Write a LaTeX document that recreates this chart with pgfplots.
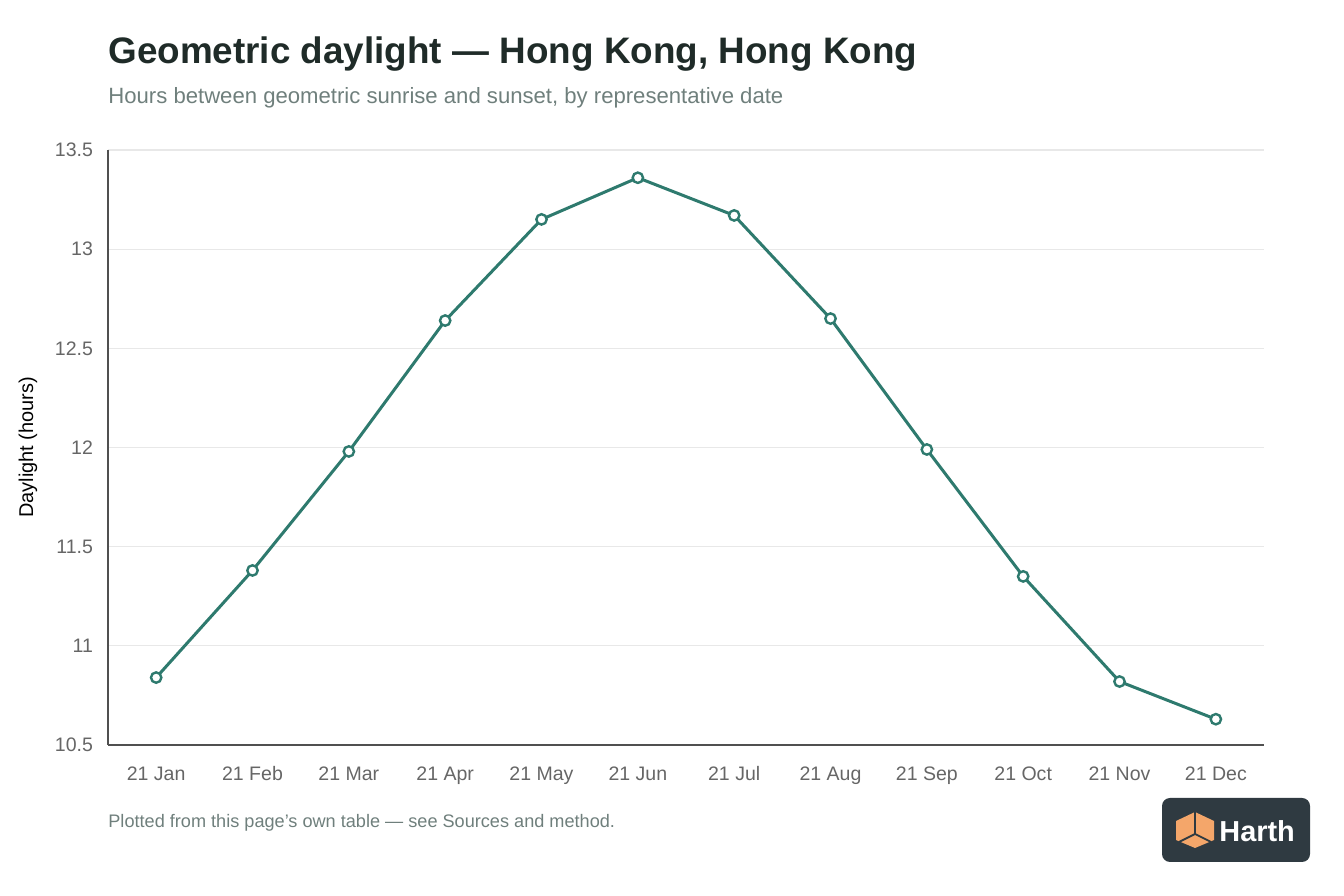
\documentclass[border=0pt]{standalone}
\usepackage{fontspec}
\setmainfont{Liberation Sans}
\usepackage{pgfplots}
\pgfplotsset{compat=1.18}
\definecolor{linec}{HTML}{2E7A6E}
\definecolor{titlec}{HTML}{1F2B28}
\definecolor{subc}{HTML}{6F7F7C}
\definecolor{tickc}{HTML}{666666}
\definecolor{gridc}{HTML}{E8E8E8}
\definecolor{axisc}{HTML}{505050}
\definecolor{logobg}{HTML}{2F3A41}
\definecolor{logoor}{HTML}{F4A66A}
\begin{document}
\begin{tikzpicture}[x=1bp,y=1bp]
\path (0,0) rectangle (672,448);
\node[anchor=base west,inner sep=0,text=titlec,font=\fontsize{18.5}{22}\selectfont\bfseries] at (54,416) {Geometric daylight — Hong Kong, Hong Kong};
\node[anchor=base west,inner sep=0,text=subc,font=\fontsize{11.1}{13}\selectfont] at (54,396) {Hours between geometric sunrise and sunset, by representative date};
\node[anchor=base west,inner sep=0,text=subc,font=\fontsize{9.1}{11}\selectfont] at (54,34) {Plotted from this page's own table — see Sources and method.};
\begin{axis}[
  at={(54bp,75.5bp)}, anchor=south west,
  scale only axis, width=578bp, height=297.5bp,
  xmin=-0.5, xmax=11.5, ymin=10.5, ymax=13.5,
  axis x line*=bottom, axis y line*=left,
  axis line style={axisc, line width=1.1bp},
  xtick={0,...,11},
  xticklabels={21 Jan,21 Feb,21 Mar,21 Apr,21 May,21 Jun,21 Jul,21 Aug,21 Sep,21 Oct,21 Nov,21 Dec},
  ytick={10.5,11,11.5,12,12.5,13,13.5},
  yticklabels={10.5,11,11.5,12,12.5,13,13.5},
  major tick length=0pt,
  ymajorgrids, grid style={gridc, line width=0.6bp},
  tick label style={text=tickc, font=\fontsize{9.8}{11}\selectfont},
  xticklabel style={yshift=-7bp, text height=7bp, text depth=2bp},
  yticklabel style={xshift=-4bp},
  ylabel={Daylight (hours)},
  ylabel style={font=\fontsize{9.7}{11}\selectfont, text=black!85},
  every axis y label/.style={at={(0,0.5)}, xshift=-40bp, rotate=90, anchor=center},
  clip=false,
]
\addplot[linec, line width=1.5bp, mark=*, mark size=2.6bp,
  mark options={fill=white, draw=linec, line width=1.2bp}]
  coordinates {(0,10.84) (1,11.38) (2,11.98) (3,12.64) (4,13.15) (5,13.36)
               (6,13.17) (7,12.65) (8,11.99) (9,11.35) (10,10.82) (11,10.63)};
\end{axis}
% logo
\fill[logobg, rounded corners=4bp] (581,17) rectangle (655,49);
\fill[logoor] (597.5,42) -- (607,37.5) -- (607,28) -- (597.5,24) -- (588,28) -- (588,37.5) -- cycle;
\draw[logobg, line width=0.9bp] (597.5,42) -- (597.5,31) -- (589.5,27) (597.5,31) -- (605.5,27);
\node[anchor=west, inner sep=0, text=white, font=\fontsize{14.5}{16}\selectfont\bfseries] at (609.5,32.5) {Harth};
\end{tikzpicture}
\end{document}
